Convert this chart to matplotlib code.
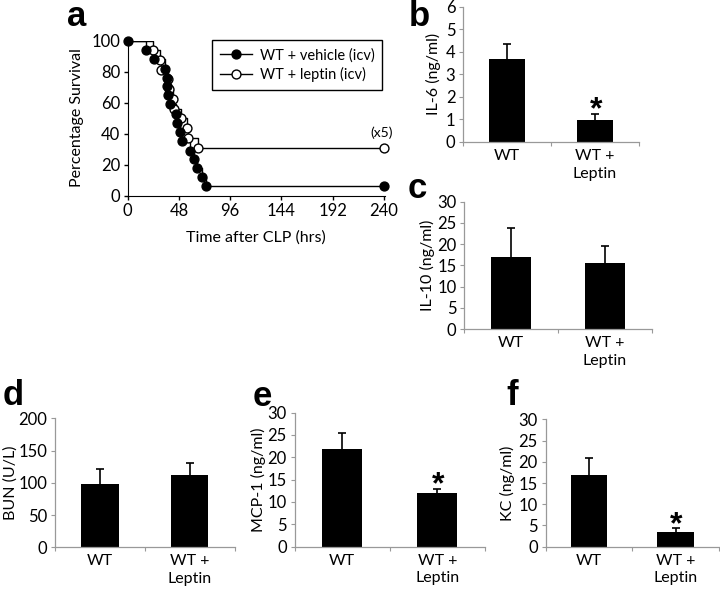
import matplotlib
matplotlib.use("Agg")
import matplotlib.pyplot as plt

plt.rcParams['font.family'] = ['Lato', 'DejaVu Sans']

# panel a: Kaplan-Meier survival, event times (hrs) and survival (%)
vehicle_times = [0, 17, 25, 35, 36.5, 37, 38, 40, 45, 46.5, 49, 51, 58.5, 62, 65, 70, 73, 240]
vehicle_surv = [100, 94, 88, 82, 76, 71, 65, 59, 53, 47, 41, 35, 29, 24, 18, 12, 6, 6]
leptin_times = [0, 24, 30, 31, 38, 39, 42, 43, 50, 55.5, 56.5, 65.5, 240]
leptin_surv = [100, 94, 87.5, 81, 75, 69, 62.5, 56, 50, 44, 37.5, 31, 31]

# bar panels: mean and upper error
groups = ["WT", "WT +\nLeptin"]
il6 = [3.66, 0.96]
il6_err = [0.66, 0.29]
il10 = [17.0, 15.6]
il10_err = [6.8, 4.0]
bun = [98.6, 112.6]
bun_err = [23.3, 17.4]
mcp1 = [21.9, 12.1]
mcp1_err = [3.5, 0.9]
kc = [16.9, 3.5]
kc_err = [4.1, 0.8]

W, H = 720, 604
fig = plt.figure(figsize=(7.2, 6.04), dpi=100)


def add_ax(x0, x1, y_top, y_bot):
    # pixel box -> figure fraction
    return fig.add_axes([x0 / W, 1 - y_bot / H, (x1 - x0) / W, (y_bot - y_top) / H])


def ptext(x, y, s, **kw):
    fig.text(x / W, 1 - y / H, s, **kw)


def letter(x, y, s):
    ptext(x, y, s, ha='center', va='baseline', fontsize=25, fontweight='bold',
          family=['Liberation Sans', 'DejaVu Sans'])


# ---- panel a
ax = add_ax(127.7, 385, 40.7, 195.7)
ax.step(vehicle_times, vehicle_surv, where='post', color='black', lw=1.0, zorder=2)
ax.step(leptin_times, leptin_surv, where='post', color='black', lw=1.0, zorder=2)
ax.plot(leptin_times[1:], leptin_surv[1:], 'o', ms=6.4, mfc='white', mec='black', mew=1.0,
        clip_on=False, zorder=3)
ax.plot(vehicle_times, vehicle_surv, 'o', ms=6.4, mfc='black', mec='black',
        clip_on=False, zorder=3)
h1, = ax.plot([], [], '-o', color='black', ms=6.4, lw=1.0)
h2, = ax.plot([], [], '-o', color='black', mfc='white', ms=6.4, lw=1.0)
leg = ax.legend([h1, h2], ["WT + vehicle (icv)", "WT + leptin (icv)"], loc='upper right',
                bbox_to_anchor=(0.99, 1.005), fancybox=False, edgecolor='black',
                framealpha=1, fontsize=10.5, handlelength=2.2, borderpad=0.55,
                labelspacing=0.35, handletextpad=0.5, borderaxespad=0)
leg.get_frame().set_linewidth(1.0)
ax.annotate("(x5)", xy=(240, 31), xytext=(-2, 11), textcoords='offset points',
            ha='center', va='center', fontsize=10)
ax.set_xlim(0, 241)
ax.set_ylim(0, 100)
ax.set_xticks(range(0, 241, 48))
ax.set_yticks(range(0, 101, 20))
ax.spines[['top', 'right']].set_visible(False)
ax.tick_params(direction='out', length=3, width=1, pad=2.5, labelsize=12)
ptext(77, 118, "Percentage Survival", rotation=90, ha='center', va='center', fontsize=11.5)
ptext(256, 238, "Time after CLP (hrs)", ha='center', va='center', fontsize=11.5)
letter(76.5, 26.5, "a")


def bar_panel(ax, vals, errs, ymax, step, star):
    x = [0, 1]
    ax.bar(x, vals, width=0.42, color='black', zorder=2)
    _, caps, _ = ax.errorbar(x, vals, yerr=[[0, 0], errs], fmt='none', ecolor='black',
                             elinewidth=1.2, capsize=3, capthick=1.2, zorder=3)
    caps[0].set_visible(False)
    if star:
        ax.annotate("*", xy=(1, vals[1] + errs[1]), xytext=(0.5, -3.5), textcoords='offset points',
                    ha='center', va='baseline', fontsize=23, fontweight='bold',
                    family=['Liberation Sans', 'DejaVu Sans'])
    ax.set_xlim(-0.5, 1.5)
    ax.set_ylim(0, ymax)
    ax.set_yticks(range(0, ymax + 1, step))
    ax.set_xticks([-0.5, 0.5, 1.5])
    ax.set_xticklabels([])
    ax.set_xticks(x, minor=True)
    ax.set_xticklabels(groups, minor=True, linespacing=1.35)
    ax.tick_params(axis='x', which='minor', length=0, pad=5, labelsize=11.5)
    ax.tick_params(axis='x', which='major', length=3, color='#999999')
    ax.tick_params(axis='y', direction='out', length=3, color='#999999', pad=2.5, labelsize=12)
    ax.spines[['top', 'right']].set_visible(False)
    ax.spines[['left', 'bottom']].set_color('#999999')
    ax.spines[['left', 'bottom']].set_linewidth(0.9)


# ---- panel b
ax = add_ax(463, 639, 6.5, 142)
bar_panel(ax, il6, il6_err, 6, 1, True)
ptext(433, 74, "IL-6 (ng/ml)", rotation=90, ha='center', va='center', fontsize=11.5)
letter(419, 26, "b")

# ---- panel c
ax = add_ax(464, 652, 201.5, 329.3)
bar_panel(ax, il10, il10_err, 30, 5, False)
ptext(427, 265, "IL-10 (ng/ml)", rotation=90, ha='center', va='center', fontsize=11.5)
letter(417.5, 198, "c")

# ---- panel d
ax = add_ax(55, 234.5, 418.3, 547.3)
bar_panel(ax, bun, bun_err, 200, 50, False)
ptext(10.5, 483, "BUN (U/L)", rotation=90, ha='center', va='center', fontsize=11.5)
letter(13.5, 405, "d")

# ---- panel e
ax = add_ax(294.5, 485, 412.5, 546.7)
bar_panel(ax, mcp1, mcp1_err, 30, 5, True)
ptext(258, 480, "MCP-1 (ng/ml)", rotation=90, ha='center', va='center', fontsize=11.5)
letter(262, 406, "e")

# ---- panel f
ax = add_ax(545.5, 719, 419.3, 546.7)
bar_panel(ax, kc, kc_err, 30, 5, True)
ptext(507, 483, "KC (ng/ml)", rotation=90, ha='center', va='center', fontsize=11.5)
letter(512, 405, "f")

fig.savefig("out.png", dpi=100)
